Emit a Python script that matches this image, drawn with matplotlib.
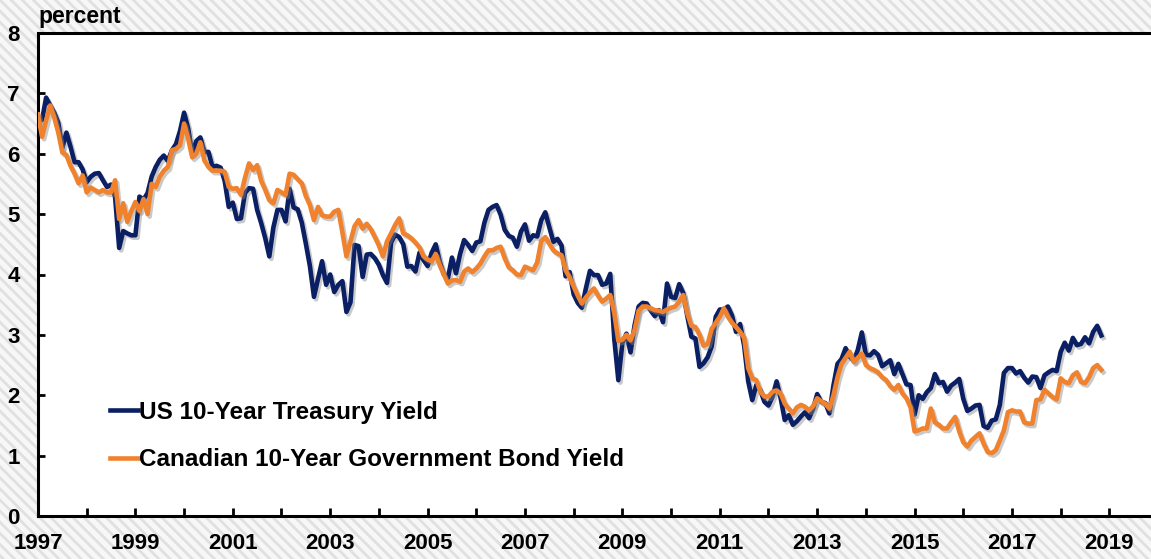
import numpy as np
import matplotlib
matplotlib.use("Agg")
import matplotlib.pyplot as plt
import matplotlib.patheffects as pe
from matplotlib.patches import Rectangle
from matplotlib.ticker import FixedLocator

plt.rcParams['font.family'] = ['Liberation Sans', 'DejaVu Sans']
plt.rcParams['hatch.linewidth'] = 2.0
plt.rcParams['hatch.color'] = '#e0e0e0'

start_year = 1997
us_yield = [
    6.58, 6.56, 6.93, 6.80, 6.68, 6.51, 6.10, 6.35, 6.12, 5.86, 5.86, 5.74,
    5.53, 5.62, 5.67, 5.68, 5.56, 5.45, 5.49, 5.28, 4.44, 4.72, 4.68, 4.65,
    4.65, 5.29, 5.24, 5.35, 5.62, 5.78, 5.90, 5.97, 5.88, 6.06, 6.16, 6.38,
    6.68, 6.42, 6.00, 6.21, 6.27, 6.03, 6.03, 5.78, 5.80, 5.77, 5.55, 5.12,
    5.19, 4.92, 4.93, 5.35, 5.43, 5.42, 5.07, 4.85, 4.60, 4.30, 4.78, 5.07,
    5.07, 4.88, 5.42, 5.11, 5.08, 4.86, 4.51, 4.14, 3.63, 3.93, 4.22, 3.83,
    4.00, 3.71, 3.83, 3.89, 3.38, 3.54, 4.49, 4.47, 3.96, 4.33, 4.34, 4.27,
    4.16, 3.99, 3.86, 4.53, 4.66, 4.62, 4.50, 4.13, 4.14, 4.05, 4.36, 4.24,
    4.14, 4.36, 4.50, 4.21, 4.00, 3.94, 4.28, 4.02, 4.34, 4.57, 4.49, 4.39,
    4.53, 4.55, 4.86, 5.07, 5.12, 5.15, 4.99, 4.74, 4.64, 4.61, 4.46, 4.71,
    4.83, 4.56, 4.65, 4.63, 4.90, 5.03, 4.78, 4.54, 4.59, 4.48, 3.97, 4.04,
    3.67, 3.53, 3.45, 3.77, 4.06, 3.99, 3.99, 3.83, 3.85, 4.01, 2.93, 2.25,
    2.87, 3.02, 2.71, 3.16, 3.47, 3.53, 3.52, 3.40, 3.31, 3.41, 3.21, 3.85,
    3.63, 3.61, 3.84, 3.69, 3.31, 2.97, 2.94, 2.47, 2.53, 2.63, 2.81, 3.30,
    3.42, 3.42, 3.47, 3.32, 3.05, 3.18, 2.82, 2.23, 1.92, 2.17, 2.08, 1.89,
    1.83, 1.98, 2.23, 1.95, 1.59, 1.67, 1.51, 1.57, 1.65, 1.72, 1.62, 1.78,
    2.02, 1.89, 1.87, 1.70, 2.16, 2.52, 2.60, 2.78, 2.64, 2.57, 2.75, 3.04,
    2.67, 2.66, 2.73, 2.67, 2.48, 2.53, 2.58, 2.35, 2.52, 2.35, 2.18, 2.17,
    1.68, 2.00, 1.94, 2.05, 2.12, 2.35, 2.20, 2.22, 2.06, 2.16, 2.21, 2.27,
    1.94, 1.74, 1.78, 1.83, 1.84, 1.49, 1.46, 1.58, 1.60, 1.84, 2.37, 2.45,
    2.45, 2.36, 2.40, 2.29, 2.21, 2.31, 2.30, 2.12, 2.33, 2.38, 2.42, 2.40,
    2.72, 2.87, 2.74, 2.95, 2.83, 2.85, 2.96, 2.86, 3.05, 3.15, 2.99,
]
ca_yield = [
    6.65, 6.28, 6.55, 6.80, 6.60, 6.35, 6.02, 5.98, 5.80, 5.67, 5.51, 5.64,
    5.36, 5.44, 5.40, 5.36, 5.40, 5.36, 5.36, 5.56, 4.92, 5.18, 4.87, 5.05,
    5.20, 5.05, 5.25, 5.00, 5.50, 5.45, 5.62, 5.72, 5.78, 6.06, 6.08, 6.14,
    6.50, 6.25, 5.94, 6.00, 6.19, 5.89, 5.78, 5.72, 5.72, 5.72, 5.70, 5.45,
    5.42, 5.43, 5.32, 5.60, 5.84, 5.73, 5.81, 5.55, 5.40, 5.23, 5.18, 5.40,
    5.36, 5.32, 5.67, 5.65, 5.58, 5.51, 5.30, 5.15, 4.90, 5.12, 4.98, 4.96,
    4.96, 5.04, 5.07, 4.70, 4.30, 4.55, 4.80, 4.90, 4.76, 4.84, 4.75, 4.62,
    4.48, 4.30, 4.55, 4.68, 4.82, 4.93, 4.68, 4.65, 4.60, 4.53, 4.45, 4.30,
    4.25, 4.22, 4.34, 4.15, 4.00, 3.85, 3.90, 3.91, 3.88, 4.05, 4.10, 4.04,
    4.10, 4.18, 4.30, 4.40, 4.40, 4.44, 4.46, 4.27, 4.12, 4.07, 4.00, 3.99,
    4.13, 4.10, 4.07, 4.20, 4.55, 4.62, 4.51, 4.40, 4.35, 4.32, 4.07, 3.95,
    3.80, 3.65, 3.52, 3.62, 3.70, 3.77, 3.65, 3.55, 3.60, 3.66, 3.36, 2.90,
    2.92, 3.00, 2.91, 3.08, 3.40, 3.47, 3.47, 3.44, 3.41, 3.40, 3.38, 3.42,
    3.45, 3.47, 3.55, 3.66, 3.35, 3.15, 3.13, 3.00, 2.82, 2.85, 3.10, 3.20,
    3.30, 3.44, 3.30, 3.20, 3.13, 3.05, 2.95, 2.45, 2.28, 2.25, 2.06, 1.98,
    1.98, 2.06, 2.08, 2.03, 1.86, 1.78, 1.70, 1.80, 1.84, 1.81, 1.75, 1.82,
    1.95, 1.90, 1.86, 1.78, 2.00, 2.30, 2.52, 2.62, 2.72, 2.55, 2.62, 2.69,
    2.50, 2.45, 2.42, 2.38, 2.30, 2.25, 2.15, 2.09, 2.17, 2.03, 1.95, 1.80,
    1.40, 1.42, 1.45, 1.45, 1.78, 1.55, 1.51, 1.45, 1.45, 1.55, 1.64, 1.40,
    1.22, 1.15, 1.25, 1.31, 1.37, 1.20, 1.06, 1.04, 1.09, 1.25, 1.42, 1.72,
    1.75, 1.73, 1.73, 1.55, 1.53, 1.53, 1.92, 1.93, 2.09, 2.03, 1.97, 1.93,
    2.28, 2.22, 2.20, 2.33, 2.38, 2.22, 2.20, 2.30, 2.45, 2.50, 2.42,
]
series_labels = ["US 10-Year Treasury Yield", "Canadian 10-Year Government Bond Yield"]
x_tick_labels = [str(y) for y in range(1997, 2020, 2)]
y_ticks = list(range(0, 9))

W, H = 1151, 559
fig = plt.figure(figsize=(W / 100, H / 100), dpi=100)
fig.patch.set_facecolor('white')
bg = Rectangle((0, 0), 1, 1, transform=fig.transFigure, facecolor='#f7f7f7',
               edgecolor='#e0e0e0', hatch='\\\\\\', linewidth=0, zorder=-10)
fig.patches.append(bg)

left_px, bottom_px, top_px = 38, 516, 33
px_per_year = 48.7
ax = fig.add_axes([left_px / W, (H - bottom_px) / H, (W - left_px + 10) / W, (bottom_px - top_px) / H])
ax.set_facecolor('white')

xs_us = start_year + np.arange(len(us_yield)) / 12.0
xs_ca = start_year + np.arange(len(ca_yield)) / 12.0

shadow = [pe.SimpleLineShadow(offset=(1.5, -1.8), shadow_color='#888888', alpha=0.45), pe.Normal()]
ax.plot(xs_us, us_yield, color='#0a1f64', lw=3.3, label=series_labels[0],
        solid_joinstyle='round', path_effects=shadow, zorder=3)
ax.plot(xs_ca, ca_yield, color='#f0822d', lw=3.3, label=series_labels[1],
        solid_joinstyle='round', path_effects=shadow, zorder=4)

ax.set_xlim(1997, 1997 + (W - left_px + 10) / px_per_year)
ax.set_ylim(0, 8)

ax.xaxis.set_major_locator(FixedLocator(list(range(1997, 2020, 2))))
ax.xaxis.set_minor_locator(FixedLocator(list(range(1998, 2020, 2))))
ax.set_xticklabels(x_tick_labels)
ax.set_yticks(y_ticks)
ax.set_yticklabels([str(v) for v in y_ticks])

for lab in ax.get_xticklabels() + ax.get_yticklabels():
    lab.set_fontweight('bold')
    lab.set_fontsize(16)
    lab.set_color('black')

ax.tick_params(axis='x', which='both', direction='in', length=6, width=2, pad=12)
ax.tick_params(axis='y', which='both', direction='in', length=5, width=2, pad=13)

for s in ['left', 'bottom', 'top']:
    ax.spines[s].set_linewidth(2.2)
    ax.spines[s].set_color('black')
ax.spines['right'].set_visible(False)

fig.text(left_px / W, 1 - 17 / H, 'percent', fontsize=16.5, fontweight='bold',
         ha='left', va='center')

leg = ax.legend(loc='upper left', bbox_to_anchor=(88 / W, 1 - 379 / H),
                bbox_transform=fig.transFigure, frameon=False,
                handlelength=1.15, handletextpad=0.05, labelspacing=1.0,
                prop={'weight': 'bold', 'size': 17.5})
for t in leg.get_texts():
    t.set_color('black')
for h in leg.legend_handles:
    h.set_path_effects([])
    h.set_linewidth(3.3)

fig.savefig('out.png', dpi=100, facecolor=fig.get_facecolor())
